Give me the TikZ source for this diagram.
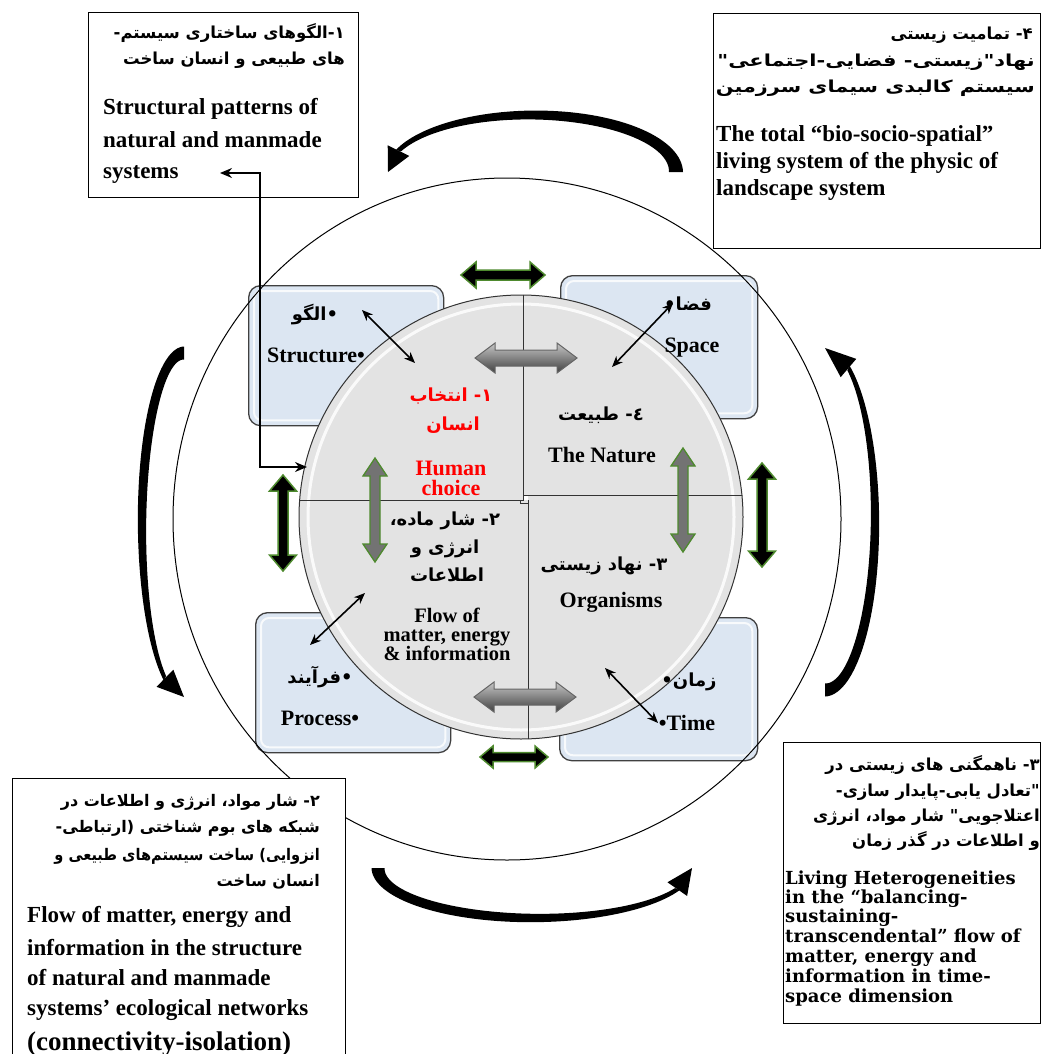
\documentclass[tikz,border=0pt]{standalone}
\usepackage{fontspec}
\setmainfont{Liberation Serif}
\newfontfamily\fa[Script=Arabic]{DejaVu Sans}
\newfontfamily\dser{DejaVu Serif}
\TeXXeTstate=1
\usetikzlibrary{calc,arrows.meta}
\definecolor{boxblue}{HTML}{DCE6F2}
\definecolor{diskgray}{HTML}{E3E3E3}
\definecolor{agreen}{HTML}{4E8A2E}
\newcommand{\CArrow}[9]{%
  \fill[black] plot[domain=#5:#6, samples=60, variable=\t]
    ({#1+(#3+(#7+(#8-(#7))*(\t-(#5))/(#6-(#5)))/2)*cos(\t)},{#2-(#4+(#7+(#8-(#7))*(\t-(#5))/(#6-(#5)))/2)*sin(\t)})
   -- plot[domain=#6:#5, samples=60, variable=\t]
    ({#1+(#3-(#7+(#8-(#7))*(\t-(#5))/(#6-(#5)))/2)*cos(\t)},{#2-(#4-(#7+(#8-(#7))*(\t-(#5))/(#6-(#5)))/2)*sin(\t)}) -- cycle;
  \coordinate (hb) at ({#1+#3*cos(#6)},{#2-#4*sin(#6)});
  \coordinate (ht) at ({#1+#3*cos(#9)},{#2-#4*sin(#9)});
  \fill[black] ($(hb)!12pt!90:(ht)$) -- (ht) -- ($(hb)!12pt!-90:(ht)$) -- cycle;
}
\tikzset{
  pics/dbla/.style n args={4}{code={%
    \path[pic actions] (-#1,0) -- (-#1+#4,-#3) -- (-#1+#4,-#2) -- (#1-#4,-#2) -- (#1-#4,-#3) -- (#1,0) -- (#1-#4,#3) -- (#1-#4,#2) -- (-#1+#4,#2) -- (-#1+#4,#3) -- cycle;}},
  tbox/.style={draw=black, line width=1.2pt, fill=white, inner sep=0, anchor=north west},
  bbox/.style={draw=black!75, line width=1.3pt, fill=boxblue, rounded corners=12pt, inner sep=0, anchor=north west},
  en/.style={font=\bfseries\fontsize{23}{28}\selectfont, inner sep=0, anchor=base west},
  enb/.style={font=\dser\bfseries\fontsize{18}{20}\selectfont, inner sep=0, anchor=base west},
  fa/.style={font=\fa\bfseries\fontsize{16.5}{20}\selectfont, inner sep=0, text height=11pt, text depth=4pt, anchor=east},
  fain/.style={font=\fa\bfseries\fontsize{18}{20}\selectfont, inner sep=0, text height=11pt, text depth=4pt, anchor=center},
  enin/.style={font=\bfseries\fontsize{22}{24}\selectfont, inner sep=0, anchor=base},
  biarr/.style={{Stealth[length=11pt,width=9pt]}-{Stealth[length=11pt,width=9pt]}, line width=1.6pt},
  blackda/.style={draw=agreen, fill=black, line width=1.5pt},
  grayda/.style={draw=black!60, top color=gray!45, bottom color=black!75, line width=1pt},
  greenda/.style={draw=agreen, fill=black!55, line width=1.3pt},
  quad/.style={fill=diskgray, draw=black!80, line width=1pt},
}
\begin{document}
\begin{tikzpicture}[x=1pt,y=-1pt]
\useasboundingbox (0,0) rectangle (1044,1054);
\fill[white] (0,0) rectangle (1044,1054);

% blue boxes
\node[bbox, minimum width=195pt, minimum height=140pt] (sbox) at (248,285) {};
\node[bbox, minimum width=197pt, minimum height=143pt] (spbox) at (560,275) {};
\node[bbox, minimum width=195pt, minimum height=140pt] (pbox) at (255,612) {};
\node[bbox, minimum width=198pt, minimum height=143pt] (tmbox) at (559,617) {};
\foreach \b in {sbox,spbox,pbox,tmbox}{
  \draw[white, line width=2pt, rounded corners=8pt, opacity=.8] ($(\b.north west)+(6,6)$) rectangle ($(\b.south east)+(-6,-6)$);
}

% outer circle
\draw[line width=1pt] (507,519) ellipse[x radius=334pt, y radius=341pt];

% inner disk quadrants
\begin{scope}
  \clip (290,280) rectangle (523,500);
  \fill[quad] (521,517) circle[radius=222pt];
  \draw[white, line width=3pt, opacity=.85] (521,517) circle[radius=213pt];
\end{scope}
\begin{scope}
  \clip (290,500) rectangle (528,750);
  \fill[quad] (521,517) circle[radius=222pt];
  \draw[white, line width=3pt, opacity=.85] (521,517) circle[radius=213pt];
\end{scope}
\begin{scope}
  \clip (523,280) rectangle (750,495);
  \fill[quad] (521,517) circle[radius=222pt];
  \draw[white, line width=3pt, opacity=.85] (521,517) circle[radius=213pt];
\end{scope}
\begin{scope}
  \clip (528,495) rectangle (750,750);
  \fill[quad] (521,517) circle[radius=222pt];
  \draw[white, line width=3pt, opacity=.85] (521,517) circle[radius=213pt];
\end{scope}
\begin{scope}
  \clip (521,517) circle[radius=222pt];
  \draw[black!80, line width=1pt] (523,280) -- (523,500) -- (290,500);
  \draw[black!80, line width=1pt] (523,495) -- (750,495);
  \draw[black!80, line width=1pt] (528,500) -- (528,750);
  \draw[black!80, line width=1pt] (520,500) -- (520,503) -- (528,503);
\end{scope}

% gray double arrows
\pic[grayda] (gtop) at (526,358) {dbla={51}{8}{15}{20}};
\pic[grayda] (gbot) at (525,697) {dbla={51}{8}{15}{20}};
\pic[greenda, rotate=90] (gl) at (375,510) {dbla={52}{5}{12}{18}};
\pic[greenda, rotate=90] (gr) at (683,500) {dbla={52}{5}{12}{18}};

% black double arrows
\pic[blackda] (btop) at (503,275) {dbla={42}{5}{13}{15}};
\pic[blackda] (bbot) at (514,757) {dbla={34}{4.5}{11}{13}};
\pic[blackda, rotate=90] (bl) at (283,523) {dbla={48}{5}{13.5}{16}};
\pic[blackda, rotate=90] (br) at (762,515) {dbla={52}{5}{13.5}{16}};

% text boxes
\node[tbox, minimum width=270pt, minimum height=185pt] (box1) at (88,12) {};
\node[tbox, minimum width=327pt, minimum height=235pt] (box4) at (713,13) {};
\node[tbox, minimum width=333pt, minimum height=300pt] (box2) at (12,778) {};
\node[tbox, minimum width=257pt, minimum height=281pt] (box3) at (783,742) {};

% curved arrows
\CArrow{532}{172}{144}{57}{0}{158}{14}{5}{180}
\CArrow{825}{519}{50}{171}{-90}{62}{13}{5}{90}
\CArrow{184}{525}{42}{172}{90}{243}{13}{5}{270}
\CArrow{535}{868}{157}{50}{180}{335}{13}{5}{360}

% box 1 text
\node[fa] (b1f1) at (345,35) {\beginR ۱-الگوهای ساختاری سیستم-\endR};
\node[fa] (b1f2) at (345,61) {\beginR های طبیعی و انسان ساخت\endR};
\node[en] (b1e1) at (103,115) {Structural patterns of};
\node[en] (b1e2) at (103,147) {natural and manmade};
\node[en] (b1e3) at (103,178) {systems};

% box 4 text
\node[fa] (b4f1) at (1033,36) {\beginR ۴- تمامیت زیستی\endR};
\node[fa] (b4f2) at (1035,63) {\scalebox{1.27}[1]{\beginR نهاد"زیستی- فضایی-اجتماعی"\endR}};
\node[fa] (b4f3) at (1035,89) {\scalebox{1.26}[1]{\beginR سیستم کالبدی سیمای سرزمین\endR}};
\node[en] (b4e1) at (716,142) {The total “bio-socio-spatial”};
\node[en] (b4e2) at (716,168) {living system of the physic of};
\node[en] (b4e3) at (716,195) {landscape system};

% box 2 text
\node[fa, font=\fa\bfseries\fontsize{16}{20}\selectfont] (b2f1) at (320,803) {\beginR ۲- شار مواد، انرژی و اطلاعات در\endR};
\node[fa, font=\fa\bfseries\fontsize{16}{20}\selectfont] (b2f2) at (320,829) {\beginR شبکه های بوم شناختی (ارتباطی-\endR};
\node[fa, font=\fa\bfseries\fontsize{16}{20}\selectfont] (b2f3) at (320,857) {\scalebox{0.91}[1]{\beginR انزوایی) ساخت سیستم‌های طبیعی و\endR}};
\node[fa, font=\fa\bfseries\fontsize{16}{20}\selectfont] (b2f4) at (320,883) {\beginR انسان ساخت\endR};
\node[en] (b2e1) at (27,922) {Flow of matter, energy and};
\node[en] (b2e2) at (27,955) {information in the structure};
\node[en] (b2e3) at (27,985) {of natural and manmade};
\node[en] (b2e4) at (27,1015) {systems’ ecological networks};
\node[en, font=\bfseries\fontsize{27}{30}\selectfont] (b2e5) at (27,1050) {(connectivity-isolation)};

% box 3 text
\node[fa] (b3f1) at (1040,767) {\beginR ۳- ناهمگنی های زیستی در\endR};
\node[fa] (b3f2) at (1040,793) {\beginR "تعادل یابی-پایدار سازی-\endR};
\node[fa] (b3f3) at (1040,818) {\beginR اعتلاجویی" شار مواد، انرژی\endR};
\node[fa] (b3f4) at (1040,843) {\beginR و اطلاعات در گذر زمان\endR};
\node[enb] (b3e1) at (785,884) {Living Heterogeneities};
\node[enb] (b3e2) at (785,903) {in the “balancing-};
\node[enb] (b3e3) at (785,922) {sustaining-};
\node[enb] (b3e4) at (785,942) {transcendental” flow of};
\node[enb] (b3e5) at (785,962) {matter, energy and};
\node[enb] (b3e6) at (785,982) {information in time-};
\node[enb] (b3e7) at (785,1002) {space dimension};

% inner labels
\node[fain] (lg) at (315,317) {\beginR •الگو\endR};
\node[enin] (st) at (316,362) {Structure•};
\node[fain, text=red] (hc1) at (451,398) {\beginR ۱- انتخاب\endR};
\node[fain, text=red] (hc2) at (453,427) {\beginR انسان\endR};
\node[enin, text=red] (hc3) at (451,475) {Human};
\node[enin, text=red] (hc4) at (451,495) {choice};
\node[fain] (fz) at (688,307) {\beginR فضا•\endR};
\node[enin] (sp) at (692,352) {Space};
\node[fain] (tb) at (601,417) {\beginR ٤- طبیعت\endR};
\node[enin] (tn) at (602,462) {The Nature};
\node[fain] (sh1) at (445,522) {\beginR ۲- شار ماده،\endR};
\node[fain] (sh2) at (445,550) {\beginR انرژی و\endR};
\node[fain] (sh3) at (447,578) {\beginR اطلاعات\endR};
\node[enin, font=\bfseries\fontsize{20.5}{22}\selectfont] (fl1) at (447,622) {Flow of};
\node[enin, font=\bfseries\fontsize{20.5}{22}\selectfont] (fl2) at (447,641) {matter, energy};
\node[enin, font=\bfseries\fontsize{20.5}{22}\selectfont] (fl3) at (447,660) {\& information};
\node[fain] (fr) at (320,680) {\beginR •فرآیند\endR};
\node[enin] (pr) at (320,725) {Process•};
\node[fain] (nz) at (604,567) {\beginR ۳- نهاد زیستی\endR};
\node[enin] (og) at (611,607) {Organisms};
\node[fain] (zm) at (689,683) {\beginR زمان•\endR};
\node[enin] (tm) at (687,730) {•Time};

% thin double arrows
\coordinate (s1) at (362,310); \coordinate (s2) at (415,363);
\coordinate (p1) at (673,303); \coordinate (p2) at (612,367);
\coordinate (r1) at (365,593); \coordinate (r2) at (310,645);
\coordinate (t1) at (605,668); \coordinate (t2) at (658,723);
\draw[biarr] (s1) -- (s2);
\draw[biarr] (p1) -- (p2);
\draw[biarr] (r1) -- (r2);
\draw[biarr] (t1) -- (t2);

% elbow connector
\coordinate (e1) at (220,173); \coordinate (e2) at (307,467);
\draw[line width=1.5pt, {Stealth[length=12pt,width=10pt]}-{Stealth[length=12pt,width=10pt]}] (e1) -- ++(40,0) |- (e2);
\end{tikzpicture}
\end{document}
